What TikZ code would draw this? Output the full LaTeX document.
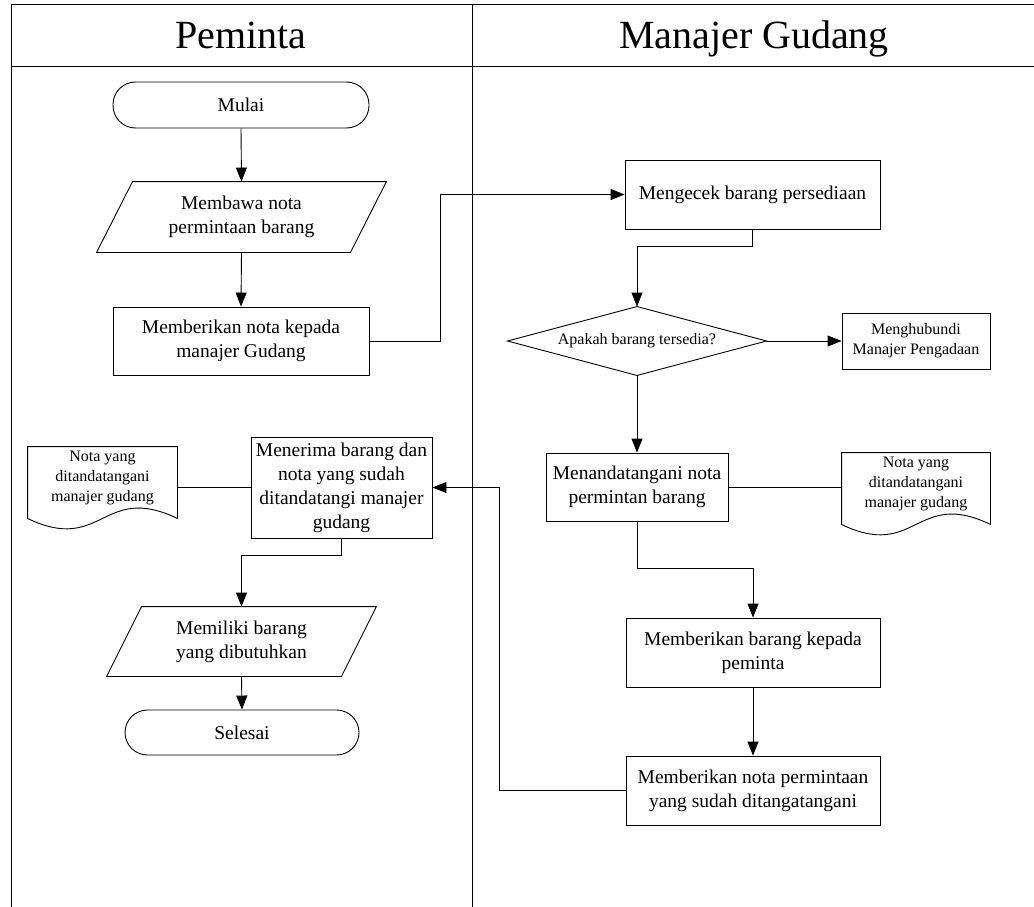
\documentclass[tikz,border=0pt]{standalone}
\usepackage{fontspec}
\setmainfont{Liberation Serif}
\usetikzlibrary{arrows.meta,calc}
\begin{document}
\begin{tikzpicture}[x=1pt,y=-1pt,
  line width=0.9pt,
  base/.style={inner sep=0pt,align=center,font=\fontsize{19.5}{24}\selectfont},
  small/.style={inner sep=0pt,align=center,font=\fontsize{16}{20}\selectfont},
  procbox/.style={base,draw,rectangle},
  termbox/.style={base,draw,rectangle,rounded corners=22.5pt},
  arr/.style={-{Triangle[length=14pt,width=11pt]}},
  lane/.style={line width=1pt},
  head/.style={anchor=base,font=\fontsize{40}{44}\selectfont}
]
\useasboundingbox (0,0) rectangle (1034,907);
% lanes
\draw[lane] (11,5) -- (1034,5);
\draw[lane] (11,67) -- (1034,67);
\draw[lane] (11,5) -- (11,907);
\draw[lane] (472,5) -- (472,907);
\node[head] (h1) at (241,49) {Peminta};
\node[head] (h2) at (754,49) {Manajer Gudang};

% Peminta lane
\node[termbox,minimum width=256pt,minimum height=46pt] (mulai) at (241,105) {Mulai};
\node[base,minimum width=289pt,minimum height=70pt] (membawa) at (241.5,217) {Membawa nota\\permintaan barang};
\draw (membawa.south west) -- ([xshift=36pt]membawa.north west) -- (membawa.north east) -- ([xshift=-36pt]membawa.south east) -- cycle;
\node[procbox,minimum width=256pt,minimum height=68pt] (beri1) at (241,341) {Memberikan nota kepada\\manajer Gudang};

\node[procbox,minimum width=181pt,minimum height=101pt] (terima) at (341.5,487.5) {Menerima barang dan\\nota yang sudah\\ditandatangi manajer\\gudang};
\node[small,minimum width=149pt,minimum height=62pt] (docL) at (102.5,478) {Nota yang\\ditandatangani\\manajer gudang};
\draw (docL.north east) -- (docL.north west) -- ([yshift=-9pt]docL.south west)
  .. controls ([yshift=-45pt]docL.south) and ([yshift=27pt]docL.south) .. ([yshift=-9pt]docL.south east) -- cycle;

\node[base,minimum width=269pt,minimum height=69pt] (memiliki) at (241.5,641.5) {Memiliki barang\\yang dibutuhkan};
\draw (memiliki.south west) -- ([xshift=35pt]memiliki.north west) -- (memiliki.north east) -- ([xshift=-35pt]memiliki.south east) -- cycle;
\node[termbox,minimum width=234pt,minimum height=45pt] (selesai) at (242,732.5) {Selesai};

% Manajer lane
\node[procbox,minimum width=255pt,minimum height=69pt] (cek) at (752.5,194.5) {Mengecek barang persediaan};
\node[small,minimum width=258pt,minimum height=68pt] (dia) at (637,341) {Apakah barang tersedia?};
\draw (dia.west) -- (dia.north) -- (dia.east) -- (dia.south) -- cycle;
\node[small,draw,minimum width=148pt,minimum height=56pt] (hub) at (916,341) {Menghubundi\\Manajer Pengadaan};
\node[procbox,minimum width=182pt,minimum height=68pt] (tanda) at (637,487) {Menandatangani nota\\permintan barang};
\node[small,minimum width=148pt,minimum height=62pt] (docR) at (916,484) {Nota yang\\ditandatangani\\manajer gudang};
\draw (docR.north east) -- (docR.north west) -- ([yshift=-9pt]docR.south west)
  .. controls ([yshift=-45pt]docR.south) and ([yshift=27pt]docR.south) .. ([yshift=-9pt]docR.south east) -- cycle;
\node[procbox,minimum width=254pt,minimum height=69pt] (beri2) at (753,652.5) {Memberikan barang kepada\\peminta};
\node[procbox,minimum width=254pt,minimum height=69pt] (beri3) at (753,790.5) {Memberikan nota permintaan\\yang sudah ditangatangani};

% junction coordinates
\coordinate (j1) at (440,0);
\coordinate (j2) at (0,246);
\coordinate (j3) at (0,568);
\coordinate (j4) at (499,0);
\coordinate (j5) at (0,555);

% connectors
\draw[arr] (mulai.south) -- (membawa.north);
\draw[arr] (membawa.south) -- (beri1.north);
\draw[arr] (beri1.east) -- (beri1.east -| j1) |- (cek.west);
\draw[arr] (cek.south) -- (cek.south |- j2) -| (dia.north);
\draw[arr] (dia.east) -- (hub.west);
\draw[arr] (dia.south) -- (tanda.north);
\draw (tanda.east) -- (tanda.east -| docR.west);
\draw[arr] (tanda.south) -- (tanda.south |- j3) -| (beri2.north);
\draw[arr] (beri2.south) -- (beri3.north);
\draw[arr] (beri3.west) -- (beri3.west -| j4) |- (terima.east);
\draw (terima.west) -- (terima.west -| docL.east);
\draw[arr] (terima.south) -- (terima.south |- j5) -| (memiliki.north);
\draw[arr] (memiliki.south) -- (selesai.north);
\end{tikzpicture}
\end{document}
